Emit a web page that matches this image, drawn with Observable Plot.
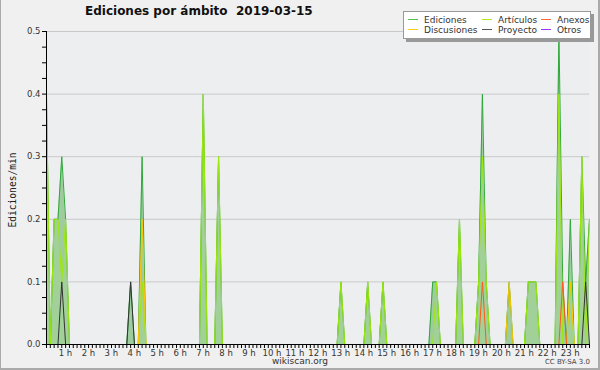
<!DOCTYPE html>
<html>
<head>
<meta charset="utf-8">
<script src="https://cdn.jsdelivr.net/npm/d3@7"></script>
<script src="https://cdn.jsdelivr.net/npm/@observablehq/plot@0.6"></script>
<style>
  html, body { margin: 0; padding: 0; background: #f0f0f0; }
  #wrap { position: relative; width: 600px; height: 370px; overflow: hidden; background: #f0f0f0;
          font-family: "DejaVu Sans", sans-serif; color: #333; }
  #chart { position: absolute; left: 0; top: 0; }
  #border { position: absolute; left: 0; top: 0; width: 600px; height: 370px; box-sizing: border-box;
            border-left: 1px solid #aaa; border-right: 2px solid #aaa; border-bottom: 2px solid #aaa; pointer-events: none; }
  #title { position: absolute; left: 85px; top: 4px; font-weight: bold; font-size: 12px; color: #111; white-space: pre; }
  #legend { position: absolute; left: 403px; top: 11px; width: 186px; height: 26px; background: #fff;
            border: 1px solid #999; box-shadow: 3px 3px 0 #999; font-size: 9px; color: #333; }
  .item { position: absolute; white-space: nowrap; line-height: 10px; }
  .sw { display: inline-block; width: 10px; height: 1px; vertical-align: middle; margin-right: 6px; position: relative; top: -1px; }
  #ylab { position: absolute; left: 12px; top: 190px; transform: translate(-50%, -50%) rotate(-90deg);
          font-family: "DejaVu Sans Mono", monospace; font-size: 9.6px; color: #222; white-space: nowrap; }
  #site { position: absolute; left: 300px; top: 356px; transform: translateX(-50%); font-size: 9px; color: #333; }
  #cc { position: absolute; right: 10px; top: 358px; font-size: 7px; color: #444; }
</style>
</head>
<body>
<div id="wrap">
  <div id="chart"></div>
  <div id="title">Ediciones por ámbito  2019-03-15</div>
  <div id="legend"></div>
  <div id="ylab">Ediciones/min</div>
  <div id="site">wikiscan.org</div>
  <div id="cc">CC BY-SA 3.0</div>
  <div id="border"></div>
</div>
<script>
// 10-minute slots of the day (0 = 00:00, 142 = 23:40); values in edits/min
const lastSlot = 142;
const hourLabels = ["1 h","2 h","3 h","4 h","5 h","6 h","7 h","8 h","9 h","10 h","11 h","12 h",
                    "13 h","14 h","15 h","16 h","17 h","18 h","19 h","20 h","21 h","22 h","23 h"];
const yTicks = [0, 0.1, 0.2, 0.3, 0.4, 0.5];

const edicionesSlots  = [0, 2, 3, 4, 5, 22, 25, 41, 45, 77, 84, 88, 101, 102, 108, 113, 114, 115, 121, 126, 127, 128, 134, 135, 137, 140, 141, 142];
const edicionesValues = [0.4, 0.2, 0.2, 0.3, 0.2, 0.1, 0.3, 0.4, 0.3, 0.1, 0.1, 0.1, 0.1, 0.1, 0.2, 0.1, 0.4, 0.1, 0.1, 0.1, 0.1, 0.1, 0.5, 0.1, 0.2, 0.3, 0.1, 0.2];

const articulosSlots  = [0, 2, 3, 4, 5, 25, 41, 45, 77, 84, 88, 102, 108, 113, 114, 115, 126, 127, 128, 134, 137, 140, 142];
const articulosValues = [0.4, 0.2, 0.2, 0.1, 0.2, 0.1, 0.4, 0.3, 0.1, 0.1, 0.1, 0.1, 0.2, 0.1, 0.3, 0.1, 0.1, 0.1, 0.1, 0.4, 0.1, 0.3, 0.2];

const anexosSlots  = [114, 135];
const anexosValues = [0.1, 0.1];

const discusionesSlots  = [25, 121, 137];
const discusionesValues = [0.2, 0.1, 0.1];

const proyectoSlots  = [4, 22, 141];
const proyectoValues = [0.1, 0.1, 0.1];

const otrosSlots  = [];
const otrosValues = [];

const series = [
  {name: "Ediciones",   slots: edicionesSlots,   values: edicionesValues,   line: "#2fa83a", legend: "#55c055"},
  {name: "Artículos",   slots: articulosSlots,   values: articulosValues,   line: "#9ee80a", legend: "#aee620"},
  {name: "Anexos",      slots: anexosSlots,      values: anexosValues,      line: "#ff5a1a", legend: "#ff6a33"},
  {name: "Discusiones", slots: discusionesSlots, values: discusionesValues, line: "#ffc400", legend: "#ffcc22"},
  {name: "Proyecto",    slots: proyectoSlots,    values: proyectoValues,    line: "#333333", legend: "#555555"},
  {name: "Otros",       slots: otrosSlots,       values: otrosValues,       line: "#9933ff", legend: "#9933ff"}
];

// full per-slot table (slots without edits are 0)
function table(s) {
  const m = new Map(s.slots.map((k, j) => [k, s.values[j]]));
  return d3.range(0, lastSlot + 1).map(k => ({slot: k, v: m.get(k) ?? 0, name: s.name}));
}
const tables = series.map(table);

const allSlots = d3.range(0, lastSlot + 1);
const hourSlots = hourLabels.map((_, j) => (j + 1) * 6);
const minorY = d3.range(0, 0.5001, 0.025).map(v => +v.toFixed(3));

// plot geometry
const W = 600, H = 370, mL = 46, mR = 11, mT = 31, mB = 26;
const tickPx = 4;
const yPerPx = 0.5 / (H - mT - mB);
const xPerPx = lastSlot / (W - mL - mR);

const marks = [
  Plot.frame({fill: "#eceef0", stroke: null}),
  Plot.gridY(yTicks.slice(1), {stroke: "#c9c9c9", strokeOpacity: 1, strokeWidth: 1}),
  Plot.areaY(tables[0], {x: "slot", y: "v", fill: "#9fcc9f", fillOpacity: 1}),
  Plot.areaY(tables[1], {x: "slot", y: "v", fill: "#a8d890", fillOpacity: 0.35}),
];
[0, 1, 3, 2, 4, 5].forEach(k => {
  marks.push(Plot.lineY(tables[k], {x: "slot", y: "v", stroke: series[k].line, strokeWidth: 1}));
});
marks.push(
  Plot.ruleX([0], {stroke: "#000"}),
  Plot.ruleY([0], {stroke: "#000"}),
  // small ticks
  Plot.ruleX(allSlots, {x: d => d, y1: 0, y2: -tickPx * yPerPx, stroke: "#000"}),
  Plot.ruleY(minorY, {y: d => d, x1: 0, x2: -tickPx * xPerPx, stroke: "#000"}),
  // labels
  Plot.axisY(yTicks, {tickSize: 0, tickPadding: 6, fontSize: 8.5, label: null, tickFormat: d => d.toFixed(1)}),
  Plot.axisX(hourSlots, {tickSize: 0, tickPadding: 5, dx: -4, fontSize: 8.5, label: null,
    tickFormat: d => hourLabels[d / 6 - 1]})
);

const chart = Plot.plot({
  width: W, height: H,
  marginLeft: mL, marginRight: mR, marginTop: mT, marginBottom: mB,
  style: {background: "transparent", fontFamily: "'DejaVu Sans', sans-serif", color: "#333"},
  x: {domain: [0, lastSlot], axis: null},
  y: {domain: [0, 0.5], axis: null},
  marks
});
document.getElementById("chart").appendChild(chart);

// legend
const legend = document.getElementById("legend");
const pos = [[4, 3], [78, 3], [137, 3], [4, 13], [78, 13], [137, 13]];
const order = ["Ediciones", "Artículos", "Anexos", "Discusiones", "Proyecto", "Otros"];
order.forEach((n, j) => {
  const s = series.find(d => d.name === n);
  const el = document.createElement("div");
  el.className = "item";
  el.style.left = pos[j][0] + "px";
  el.style.top = pos[j][1] + "px";
  el.innerHTML = `<span class="sw" style="background:${s.legend}"></span>${n}`;
  legend.appendChild(el);
});
</script>
</body>
</html>
